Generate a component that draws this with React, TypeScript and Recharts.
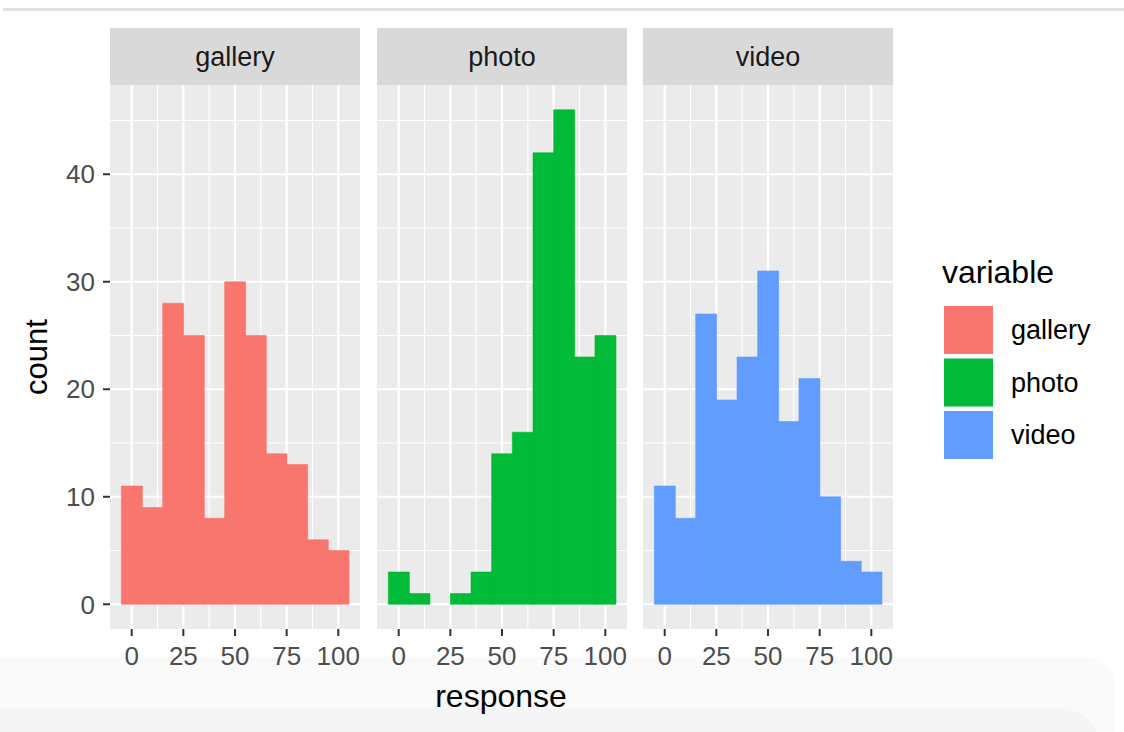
import React from 'react'
import { BarChart, Bar, XAxis, YAxis, CartesianGrid } from 'recharts'

// histogram bins (binwidth 10, centred on these values)
const BIN_CENTERS = [0, 10, 20, 30, 40, 50, 60, 70, 80, 90, 100]
const GALLERY_COUNTS = [11, 9, 28, 25, 8, 30, 25, 14, 13, 6, 5]
const PHOTO_COUNTS = [3, 1, 0, 1, 3, 14, 16, 42, 46, 23, 25]
const VIDEO_COUNTS = [11, 8, 27, 19, 23, 31, 17, 21, 10, 4, 3]

const FACETS = ['gallery', 'photo', 'video']
const FACET_COLORS = ['#F8766D', '#00BA38', '#619CFF']
const FACET_COUNTS = [GALLERY_COUNTS, PHOTO_COUNTS, VIDEO_COUNTS]

const X_TICKS = [0, 25, 50, 75, 100]
const X_MINOR = [12.5, 37.5, 62.5, 87.5]
const Y_TICKS = [0, 10, 20, 30, 40]
const Y_MINOR = [5, 15, 25, 35, 45]

const X_DOMAIN = [-10.5, 110.5]
const Y_DOMAIN = [-2.3, 48.3]

const FONT = '"Liberation Sans", Arial, Helvetica, sans-serif'
const PANEL_LEFT = [110, 377, 643]
const PANEL_W = 250
const PANEL_TOP = 85
const PANEL_H = 544
const STRIP_TOP = 28
const Y_AXIS_W = 110
const X_AXIS_H = 60

const tickStyle = { fill: '#4D4D4D', fontSize: 26, fontFamily: FONT }

function Panel({ idx }: { idx: number }) {
  const data = BIN_CENTERS.map((x, i) => ({ x, count: FACET_COUNTS[idx][i] }))
  const first = idx === 0
  const width = PANEL_W + (first ? Y_AXIS_W : 0)
  const color = FACET_COLORS[idx]
  return (
    <div
      style={{
        position: 'absolute',
        left: PANEL_LEFT[idx] - (first ? Y_AXIS_W : 0),
        top: PANEL_TOP,
      }}
    >
      <BarChart
        width={width}
        height={PANEL_H + X_AXIS_H}
        data={data}
        margin={{ top: 0, right: 0, bottom: 0, left: 0 }}
        barCategoryGap={0}
        barGap={0}
      >
        <CartesianGrid
          fill="#EBEBEB"
          stroke="#FFFFFF"
          strokeWidth={1.1}
          verticalValues={X_MINOR}
          horizontalValues={Y_MINOR}
        />
        <CartesianGrid
          stroke="#FFFFFF"
          strokeWidth={2.2}
          verticalValues={X_TICKS}
          horizontalValues={Y_TICKS}
        />
        <XAxis
          dataKey="x"
          type="number"
          domain={X_DOMAIN}
          allowDataOverflow
          ticks={X_TICKS}
          interval={0}
          axisLine={false}
          tickLine={{ stroke: '#333333', strokeWidth: 2 }}
          tickSize={7}
          tickMargin={11}
          height={X_AXIS_H}
          tick={tickStyle}
        />
        <YAxis
          type="number"
          domain={Y_DOMAIN}
          allowDataOverflow
          ticks={Y_TICKS}
          interval={0}
          hide={!first}
          width={Y_AXIS_W}
          axisLine={false}
          tickLine={{ stroke: '#333333', strokeWidth: 2 }}
          tickSize={7}
          tickMargin={8}
          tick={tickStyle}
        />
        <Bar
          dataKey="count"
          fill={color}
          stroke={color}
          strokeWidth={0.6}
          isAnimationActive={false}
        />
      </BarChart>
    </div>
  )
}

export default function App() {
  return (
    <div
      style={{
        position: 'absolute',
        left: 0,
        top: 0,
        width: 1124,
        height: 732,
        background: '#FFFFFF',
        overflow: 'hidden',
        fontFamily: FONT,
      }}
    >
      {/* screenshot frame remnants */}
      <div style={{ position: 'absolute', left: 3, top: 8, width: 1121, height: 3, background: '#DDE2E5' }} />
      <div
        style={{
          position: 'absolute',
          left: -10,
          top: 657,
          width: 1125,
          height: 120,
          background: '#FAFAFA',
          borderTopRightRadius: 30,
        }}
      />
      <div
        style={{
          position: 'absolute',
          left: -10,
          top: 708,
          width: 1110,
          height: 60,
          background: '#F5F5F5',
          borderTopRightRadius: 40,
        }}
      />

      {FACETS.map((f, i) => (
        <div
          key={f}
          style={{
            position: 'absolute',
            left: PANEL_LEFT[i],
            top: STRIP_TOP,
            width: PANEL_W,
            height: PANEL_TOP - STRIP_TOP,
            background: '#D9D9D9',
          }}
        />
      ))}

      {FACETS.map((f, i) => (
        <Panel key={f} idx={i} />
      ))}

      <svg
        width={1124}
        height={732}
        style={{ position: 'absolute', left: 0, top: 0, pointerEvents: 'none' }}
        fontFamily={FONT}
      >
        {FACETS.map((f, i) => (
          <text
            key={f}
            x={PANEL_LEFT[i] + PANEL_W / 2}
            y={66}
            textAnchor="middle"
            fontSize={27}
            fill="#1A1A1A"
          >
            {f}
          </text>
        ))}
        <text x={501} y={707} textAnchor="middle" fontSize={32} fill="#000000">
          response
        </text>
        <text
          x={47}
          y={357}
          textAnchor="middle"
          fontSize={31}
          fill="#000000"
          transform="rotate(-90 47 357)"
        >
          count
        </text>

        <text x={942} y={283} fontSize={32} fill="#000000">
          variable
        </text>
        {FACETS.map((f, i) => (
          <g key={f}>
            <rect x={944} y={306 + i * 52.5} width={49} height={48} fill={FACET_COLORS[i]} />
            <text x={1011} y={339 + i * 52.5} fontSize={27} fill="#000000">
              {f}
            </text>
          </g>
        ))}
      </svg>
    </div>
  )
}
